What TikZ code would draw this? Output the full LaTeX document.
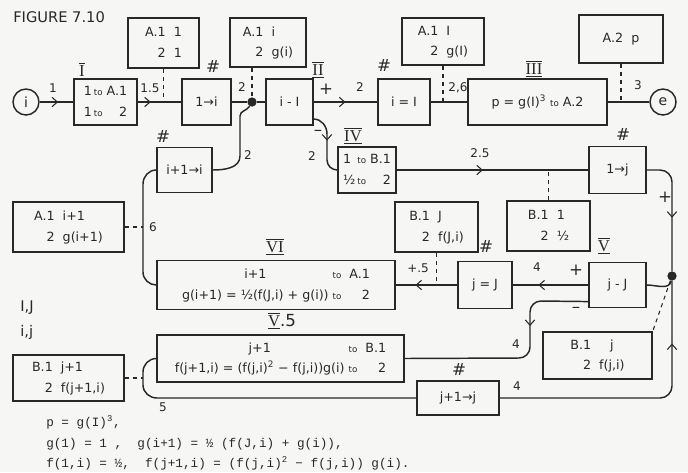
\documentclass[tikz,border=0pt]{standalone}
\usepackage{fontspec}
\setmainfont{DejaVu Sans}
\setmonofont{Liberation Mono}
\newfontfamily\romfont{Liberation Serif}
\usetikzlibrary{arrows.meta,decorations.markings}
\definecolor{ink}{RGB}{40,40,40}
\definecolor{paper}{RGB}{246,246,244}
\def\arraystretch{1.4}
\newcommand{\romn}[1]{$\underline{\overline{\mbox{\romfont #1}}}$}
\newcommand{\tto}{{\fontsize{6.5}{7}\selectfont to}}
\newcommand{\twoline}[4]{\begin{tabular}{@{}r@{\ \ }l@{}}#1 & #2\\ #3 & #4\end{tabular}}
\tikzset{
  box/.style={draw=ink, line width=1.1pt, rectangle, inner sep=1pt, text=ink,
    font=\fontsize{9.5}{11}\selectfont, align=center},
  term/.style={draw=ink, line width=1.1pt, circle, minimum size=19.5pt, inner sep=0pt,
    text=ink, font=\fontsize{10.5}{12}\selectfont},
  junc/.style={circle, fill=ink, minimum size=7pt, inner sep=0pt},
  lbl/.style={font=\fontsize{9}{10}\selectfont, inner sep=0pt, text=ink},
  roml/.style={font=\fontsize{12.5}{13}\selectfont, inner sep=0pt, text=ink},
  wh/.style 2 args={minimum width=#1*0.75pt, minimum height=#2*0.75pt},
  wire/.style={draw=ink, line width=1.1pt},
  link/.style={draw=ink, line width=0.8pt, dashed},
  flow/.style={postaction={decorate}, decoration={markings,
    mark=at position #1 with {\arrow[ink, line width=0.8pt]{Straight Barb[length=4pt,width=7pt]}}}},
}
\begin{document}
\begin{tikzpicture}[x=0.75pt, y=-0.75pt]
  \fill[paper] (0,0) rectangle (688,472);
  \useasboundingbox (0,0) rectangle (688,472);

  % outer loop over i
  \node[lbl, anchor=west, font=\fontsize{11}{13}\selectfont] (title) at (13,17) {FIGURE  7.10};
  \node[term] (start) at (26,102) {i};
  \node[box, wh={63}{46}] (init) at (105.5,102)
    {\begin{tabular}{@{}l@{\,}l@{\ }r@{}}1 & \tto & A.1\\ 1 & \tto & 2\end{tabular}};
  \node[box, wh={71}{50}] (loadA) at (163.5,43) {\twoline{A.1}{1}{2}{1}};
  \node[box, wh={49}{46}] (seti) at (206.5,102) {1→i};
  \node[junc] (fork1) at (252,102) {};
  \node[box, wh={76}{49}] (loadAi) at (268,42.5) {\twoline{A.1}{i}{2}{g(i)}};
  \node[box, wh={47}{46}] (testi) at (289.5,102) {i - I};
  \node[box, wh={52}{46}] (eqI) at (404,102) {i = I};
  \node[box, wh={82}{47}] (loadAI) at (443,41.5) {\twoline{A.1}{I}{2}{g(I)}};
  \node[box, wh={139}{46}] (final) at (537.5,102) {p = g(I)\textsuperscript{3} \tto{} A.2};
  \node[box, wh={84}{48}] (loadAp) at (621,39) {A.2\ \ p};
  \node[term] (stop) at (663,102) {e};

  % inner loop over j
  \node[box, wh={58}{46}] (initB) at (367,170)
    {\begin{tabular}{@{}l@{\,}l@{\ }r@{}}1 & \tto & B.1\\ ½ & \tto & 2\end{tabular}};
  \node[box, wh={57}{47}] (setj) at (617.5,170) {1→j};
  \node[box, wh={83}{50}] (loadB1) at (548.5,226) {\twoline{B.1}{1}{2}{½}};
  \node[junc] (fork2) at (672,276) {};
  \node[box, wh={57}{45}] (testj) at (617.5,285) {j - J};
  \node[box, wh={54}{47}] (eqJ) at (485,285) {j = J};
  \node[box, wh={83}{50}] (loadBJ) at (436.5,227) {\twoline{B.1}{J}{2}{f(J,i)}};
  \node[box, wh={238}{49}] (calcg) at (276,285)
    {\begin{tabular}{@{}c@{\ }l@{\ \ }r@{}}i+1 & \tto & A.1\\ g(i+1) = ½(f(J,i) + g(i)) & \tto & 2\end{tabular}};
  \node[box, wh={111}{50}] (loadAnext) at (68.5,227) {\twoline{A.1}{i+1}{2}{g(i+1)}};
  \node[box, wh={55}{45}] (nexti) at (184.5,170) {i+1→i};
  \node[box, wh={247}{47}] (calcf) at (280.5,358.5)
    {\begin{tabular}{@{}c@{\ }l@{\ \ }r@{}}j+1 & \tto & B.1\\ f(j+1,i) = (f(j,i)\textsuperscript{2} − f(j,i))g(i) & \tto & 2\end{tabular}};
  \node[box, wh={111}{46}] (loadBnext) at (68.5,378) {\twoline{B.1}{j+1}{2}{f(j+1,i)}};
  \node[box, wh={82}{34}] (nextj) at (458,398) {j+1→j};
  \node[box, wh={109}{47}] (loadBj) at (597.5,355.5)
    {\begin{tabular}{@{}r@{\ \ }c@{}}B.1 & j\\ 2 & f(j,i)\end{tabular}};
  \coordinate (tap6) at (143,227);
  \coordinate (tap5) at (143,378);

  % numerals and marks
  \node[roml] (rI) at (82,71) {\romn{I}};
  \node[roml] (rII) at (318,70) {\romn{II}};
  \node[roml] (rIII) at (534,69) {\romn{III}};
  \node[roml] (rIV) at (353,136) {\romn{IV}};
  \node[roml] (rV) at (604,246) {\romn{V}};
  \node[roml] (rVI) at (275,247) {\romn{VI}};
  \node[roml] (rV5) at (282,321) {\romn{V}.5};
  \node[roml] (h1) at (213,67) {\#};
  \node[roml] (h2) at (384,66) {\#};
  \node[roml] (h3) at (623,135) {\#};
  \node[roml] (h4) at (163,137) {\#};
  \node[roml] (h5) at (486,247) {\#};
  \node[roml] (h6) at (459,370) {\#};
  \node[lbl] (n1) at (53,88) {1};
  \node[lbl] (n15) at (150,88) {1.5};
  \node[lbl] (n2a) at (242,87) {2};
  \node[roml] (plus1) at (326,89) {+};
  \node[lbl] (n2b) at (360,87) {2};
  \node[lbl] (n26) at (458,88) {2,6};
  \node[lbl] (n3) at (638,85) {3};
  \node[roml] (minus1) at (318,133) {–};
  \node[lbl] (n2c) at (312,156) {2};
  \node[lbl] (n2d) at (248,155) {2};
  \node[lbl] (n25) at (480,153) {2.5};
  \node[roml] (plus2) at (665,197) {+};
  \node[lbl] (n4a) at (537,267) {4};
  \node[roml] (plus3) at (576,270) {+};
  \node[lbl] (n45) at (418,268) {+.5};
  \node[lbl] (n6) at (153,227) {6};
  \node[roml] (minus2) at (576,310) {–};
  \node[lbl] (n4b) at (516,344) {4};
  \node[lbl] (n5) at (163,407) {5};
  \node[lbl] (n4c) at (517,386) {4};
  \node[roml, anchor=west, font=\fontsize{11}{12}\selectfont] (vars1) at (20,308) {I,J};
  \node[roml, anchor=west, font=\fontsize{11}{12}\selectfont] (vars2) at (20,332) {i,j};
  \node[lbl, anchor=west, font=\ttfamily\fontsize{9.5}{11}\selectfont] (eq1) at (46,422) {p = g(I)\textsuperscript{3},};
  \node[lbl, anchor=west, font=\ttfamily\fontsize{9.5}{11}\selectfont] (eq2) at (46,444)
    {g(1) = 1 ,\ \ g(i+1) = ½ (f(J,i) + g(i)),};
  \node[lbl, anchor=west, font=\ttfamily\fontsize{9.5}{11}\selectfont] (eq3) at (46,463)
    {f(1,i) = ½,\ \ f(j+1,i) = (f(j,i)\textsuperscript{2} − f(j,i)) g(i).};

  % main line
  \draw[wire, flow=0.55] (start) -- (init);
  \draw[wire, flow=0.3] (init) -- (seti);
  \draw[wire] (seti) -- (fork1) -- (testi);
  \draw[wire, flow=0.5] (testi) -- (eqI);
  \draw[wire] (eqI) -- (final);
  \draw[wire] (final) -- (stop);
  \draw[link] (loadA.south) -- (loadA.south |- init);
  \draw[link] (loadAi.south -| fork1) -- (fork1);
  \draw[link] (loadAI.south) -- (loadAI.south |- eqI);
  \draw[link] (loadAp.south) -- (loadAp.south |- final);

  % branches
  \draw[wire, flow=0.45] ([yshift=5pt]testi.south east) to[out=0,in=90] (327,134) -- (327,160)
    to[out=-90,in=180] (initB.west);
  \draw[wire, flow=0.45] (initB) -- (setj);
  \draw[link] (loadB1.north) -- (loadB1.north |- setj);
  \draw[wire, flow=0.56] (setj.east) -- (660,170) to[out=0,in=90] (672,182) -- (fork2);
  \draw[wire] (fork2) to[out=-100,in=0] (testj.east);
  \draw[link] (fork2) -- (loadBj.north east);
  \draw[wire, flow=0.66] (testj) -- (eqJ);
  \draw[wire, flow=0.68] (eqJ) -- (calcg);
  \draw[link] (loadBJ.south) -- (loadBJ.south |- eqJ);
  \draw[wire] (calcg.west) to[out=180,in=-90] (143,272) -- (143,184) to[out=90,in=180] (nexti.west);
  \draw[link] (loadAnext.east) -- (tap6);
  \draw[wire] (nexti.east) to[out=0,in=-90] (240,156) -- (240,116) to[out=90,in=-120] (fork1);
  \draw[wire, flow=0.34] ([yshift=5pt]testj.south west) -- (541,301) to[out=180,in=90] (530,312)
    -- (530,347) to[out=-90,in=0] (519,358) -- (calcf.east);
  \draw[wire] (calcf.west) to[out=180,in=90] (143,372) -- (143,385) to[out=-90,in=180] (157,398)
    -- (nextj.west);
  \draw[link] (loadBnext.east) -- (tap5);
  \draw[wire, flow=0.78] (nextj.east) -- (660,398) to[out=0,in=-90] (672,386) -- (fork2);
\end{tikzpicture}
\end{document}
